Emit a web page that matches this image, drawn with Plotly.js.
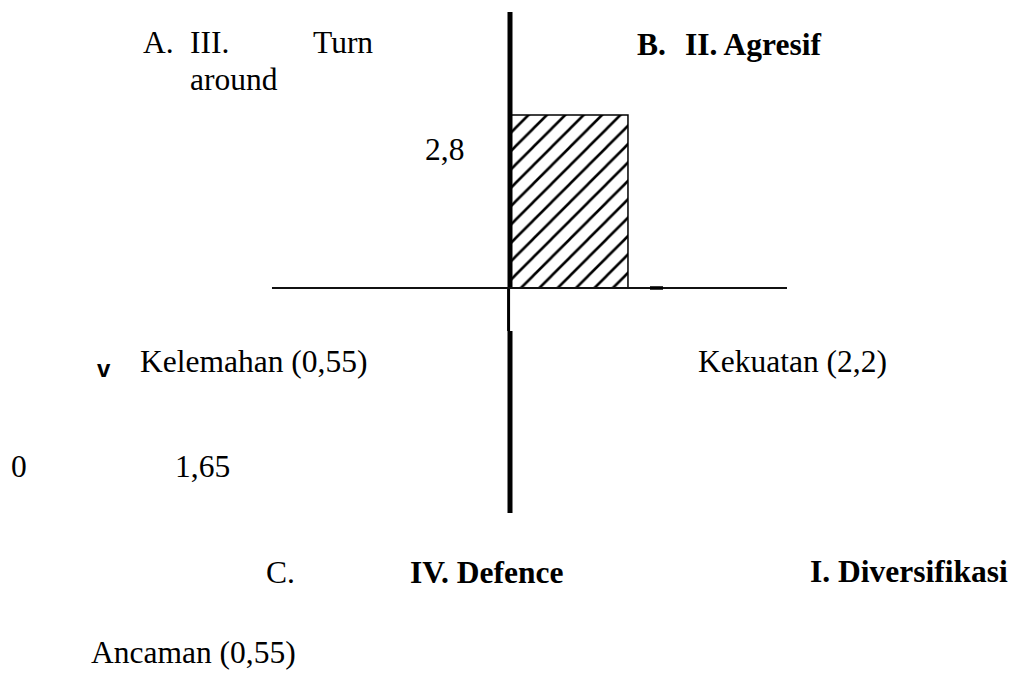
<!DOCTYPE html>
<html>
<head>
<meta charset="utf-8">
<script src="https://cdn.plot.ly/plotly-3.0.1.min.js"></script>
<style>html,body{margin:0;padding:0;background:#fff;}#chart{width:1017px;height:678px;}</style>
</head>
<body>
<div id="chart"></div>
<script>
// ---- data ----
const factorNames = ['Kekuatan', 'Kelemahan', 'Ancaman'];
const factorValues = [2.2, 0.55, 0.55];
const positionX = [1.65];   // Kekuatan - Kelemahan
const positionY = [2.8];
const axisLabels = ['0', '1,65', '2,8'];
const quadrantLabels = ['A.', 'III.', 'Turn', 'around', 'B.', 'II. Agresif', 'C.', 'IV. Defence', 'I. Diversifikasi'];

const fmt = v => String(v).replace('.', ',');
const W = 1017, H = 678;
const SERIF = 'Liberation Serif, Times New Roman, serif';
const SANS = 'Liberation Sans, Arial, sans-serif';
const FS = 31.5;

// helper: place text with left edge px and baseline py
function lbl(text, px, py, opts) {
  opts = opts || {};
  const fs = opts.size || FS;
  const fam = opts.family || SERIF;
  const center = py - (opts.baseOff !== undefined ? opts.baseOff : 0.3375 * fs);
  return {
    text: text, xref: 'paper', yref: 'paper',
    x: (px - 2) / W, y: 1 - center / H,
    xanchor: 'left', yanchor: 'middle', showarrow: false,
    font: {family: fam, size: fs, color: '#000'}
  };
}

const annotations = [
  lbl(quadrantLabels[0], 143, 53),
  lbl(quadrantLabels[1], 190, 53),
  lbl(quadrantLabels[2], 313, 53),
  lbl(quadrantLabels[3], 190, 90),
  lbl('<b>' + quadrantLabels[4] + '</b>', 637, 55),
  lbl('<b>' + quadrantLabels[5] + '</b>', 685, 55),
  lbl(axisLabels[2], 425, 160),
  lbl('<b>v</b>', 97, 377, {size: 24, family: SANS, baseOff: 0.36 * 24}),
  lbl(factorNames[1] + ' (' + fmt(factorValues[1]) + ')', 140, 372),
  lbl(factorNames[0] + ' (' + fmt(factorValues[0]) + ')', 698, 372),
  lbl(axisLabels[0], 11, 477),
  lbl(axisLabels[1], 175, 477),
  lbl(quadrantLabels[6], 266, 583),
  lbl('<b>' + quadrantLabels[7] + '</b>', 410, 583),
  lbl('<b>' + quadrantLabels[8] + '</b>', 810, 582),
  lbl(factorNames[2] + ' (' + fmt(factorValues[2]) + ')', 91, 663)
];

const px0 = positionX[0], py0 = positionY[0];
const trace = {
  type: 'scatter', mode: 'lines',
  x: [0, px0, px0, 0, 0],
  y: [0, 0, py0, py0, 0],
  fill: 'toself',
  fillcolor: '#ffffff',
  fillpattern: {shape: '/', size: 13, solidity: 0.2, fgcolor: '#000000', bgcolor: '#ffffff'},
  line: {color: '#000', width: 1.5},
  hoverinfo: 'skip', showlegend: false
};

const shapes = [
  {type: 'line', xref: 'x', yref: 'y', x0: 0, x1: 0, y0: 0, y1: 4.466, line: {color: '#000', width: 5}, layer: 'above'},
  {type: 'line', xref: 'x', yref: 'y', x0: -0.02, x1: -0.02, y0: 0, y1: -0.696, line: {color: '#000', width: 3}, layer: 'above'},
  {type: 'line', xref: 'x', yref: 'y', x0: 0, x1: 0, y0: -0.696, y1: -3.641, line: {color: '#000', width: 5}, layer: 'above'},
  {type: 'line', xref: 'x', yref: 'y', x0: -3.329, x1: 3.874, y0: 0, y1: 0, line: {color: '#111', width: 2}, layer: 'above'},
  {type: 'line', xref: 'x', yref: 'y', x0: 1.958, x1: 2.14, y0: 0, y1: 0, line: {color: '#000', width: 3.5}, layer: 'above'}
];

const layout = {
  width: W, height: H,
  margin: {l: 0, r: 0, t: 0, b: 0, pad: 0},
  paper_bgcolor: '#fff', plot_bgcolor: '#fff',
  showlegend: false,
  xaxis: {range: [-7.133, 7.091], visible: false, fixedrange: true},
  yaxis: {range: [-6.311, 4.660], visible: false, fixedrange: true},
  shapes: shapes,
  annotations: annotations
};

Plotly.newPlot('chart', [trace], layout, {staticPlot: true, displayModeBar: false});
</script>
</body>
</html>
